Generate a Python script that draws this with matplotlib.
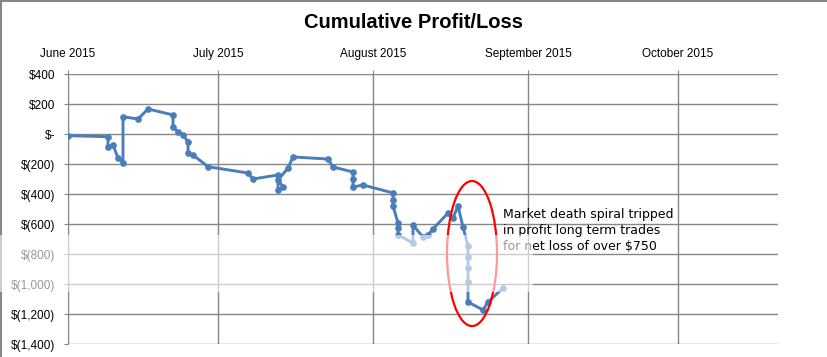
import numpy as np
import matplotlib
matplotlib.use('Agg')
import matplotlib.pyplot as plt
import matplotlib.dates as mdates
from matplotlib.patches import Ellipse, Rectangle
from matplotlib.lines import Line2D
import pandas as pd

# cumulative P/L
trade_dates = ['2015-06-01', '2015-06-09', '2015-06-09', '2015-06-10', '2015-06-11',
               '2015-06-12', '2015-06-12', '2015-06-15', '2015-06-17', '2015-06-22',
               '2015-06-22', '2015-06-23', '2015-06-24', '2015-06-25', '2015-06-25',
               '2015-06-26', '2015-06-29', '2015-07-07', '2015-07-08', '2015-07-13',
               '2015-07-13', '2015-07-14', '2015-07-13', '2015-07-15', '2015-07-16',
               '2015-07-23', '2015-07-24', '2015-07-28', '2015-07-28', '2015-07-28',
               '2015-07-30', '2015-08-05', '2015-08-05', '2015-08-05', '2015-08-06',
               '2015-08-06', '2015-08-06', '2015-08-09', '2015-08-09', '2015-08-11',
               '2015-08-12', '2015-08-13', '2015-08-16', '2015-08-17', '2015-08-18',
               '2015-08-19', '2015-08-20', '2015-08-20', '2015-08-20', '2015-08-20',
               '2015-08-20', '2015-08-23', '2015-08-24', '2015-08-27']
cum_pl = [-11, -18, -85, -73, -160,
          -193, 115, 100, 167, 127,
          47, 13, -7, -51, -127,
          -140, -218, -260, -300, -273,
          -373, -353, -307, -227, -153,
          -167, -220, -253, -300, -353,
          -340, -393, -440, -480, -593,
          -627, -673, -727, -607, -687,
          -673, -633, -527, -560, -480,
          -620, -747, -820, -893, -987,
          -1120, -1173, -1120, -1027]

month_ticks = ['2015-06-01', '2015-07-01', '2015-08-01', '2015-09-01', '2015-10-01']
month_labels = ['June 2015', 'July 2015', 'August 2015', 'September 2015', 'October 2015']
y_ticks = [400, 200, 0, -200, -400, -600, -800, -1000, -1200, -1400]

note = 'Market death spiral tripped\nin profit long term trades\nfor net loss of over $750'


def acct(v):
    if v == 0:
        return '$-'
    if v < 0:
        return '$({:,})'.format(-v)
    return '${:,}'.format(v)


x = pd.to_datetime(trade_dates)
grid_c = '#868686'
blue = '#4a7ebb'

fig = plt.figure(figsize=(8.27, 3.57), dpi=100)
ax = fig.add_axes([68/827, 13/357, 710/827, 270/357])

ax.plot(x, cum_pl, color=blue, lw=2.1, marker='o', ms=3.8,
        solid_joinstyle='round', zorder=3)

ax.set_xlim(pd.Timestamp('2015-06-01'), pd.Timestamp('2015-10-21'))
ax.set_ylim(-1400, 400)

ax.xaxis.tick_top()
ax.set_xticks(pd.to_datetime(month_ticks))
ax.set_xticklabels(month_labels)
ax.set_yticks(y_ticks)
ax.set_yticklabels([acct(v) for v in y_ticks])
ax.tick_params(axis='both', length=3, color=grid_c, labelsize=8.5)
ax.tick_params(axis='y', pad=6)
ax.tick_params(axis='x', pad=7)
for lab in ax.get_xticklabels() + ax.get_yticklabels():
    lab.set_family('Liberation Sans')

ax.grid(True, color=grid_c, lw=1)
ax.set_axisbelow(True)
for s in ['top', 'right', 'bottom']:
    ax.spines[s].set_visible(False)
ax.spines['left'].set_color(grid_c)

# red circle round the crash
cx = mdates.date2num(pd.Timestamp('2015-08-20')) + 0.8
ax.add_patch(Ellipse((cx, -797), 10, 967, fill=False, ec='red', lw=1.6, zorder=4))
ax.text(mdates.date2num(pd.Timestamp('2015-08-27')), -495, note,
        fontsize=9, family='DejaVu Sans', va='top', ha='left', linespacing=1.3)

fig.text(0.5, 1 - 22/357, 'Cumulative Profit/Loss', ha='center', va='center',
         fontsize=14.5, fontweight='bold', family='Liberation Sans')

# chart border (left and top)
fig.add_artist(Line2D([0.5/827, 0.5/827], [0, 1], transform=fig.transFigure, color=grid_c, lw=1.5))
fig.add_artist(Line2D([0, 1], [1 - 0.5/357, 1 - 0.5/357], transform=fig.transFigure, color=grid_c, lw=1.5))

# washed-out band in the original image
fig.add_artist(Rectangle((0, 1 - 292/357), 533/827, 57/357, transform=fig.transFigure,
                         fc='white', ec='none', alpha=0.6, zorder=10))

fig.savefig('out.png', dpi=100)
